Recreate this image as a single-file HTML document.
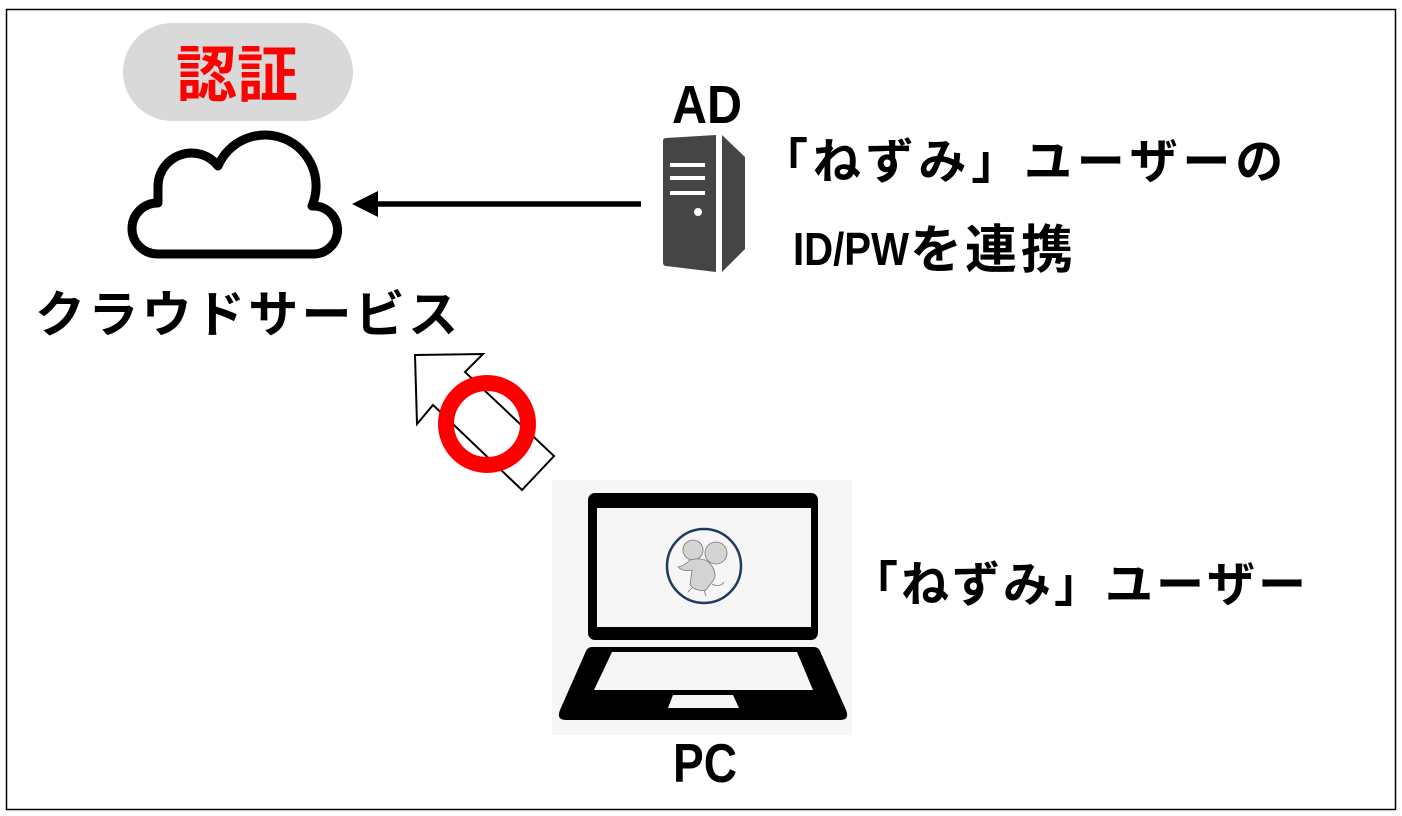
<!DOCTYPE html>
<html>
<head>
<meta charset="utf-8">
<style>
  html, body { margin: 0; padding: 0; background: #ffffff; }
  body { width: 1402px; height: 816px; overflow: hidden; }
  svg { display: block; }
  .t { font-family: "Liberation Sans", "Noto Sans CJK JP", sans-serif; font-weight: 700; fill: #000; }
  .j { font-family: "Noto Sans CJK JP", "Liberation Sans", sans-serif; font-weight: 700; fill: #000; }
</style>
</head>
<body>
<svg width="1402" height="816" viewBox="0 0 1402 816" xmlns="http://www.w3.org/2000/svg">
  <rect x="0" y="0" width="1402" height="816" fill="#ffffff"/>
  <!-- outer border -->
  <rect x="6.5" y="9.5" width="1389" height="800" fill="none" stroke="#000" stroke-width="1.5"/>

  <!-- 認証 pill -->
  <rect x="123" y="23" width="230" height="98" rx="49" ry="49" fill="#d9d9d9"/>
  <text class="j" x="176 237" y="96" font-size="61" style="fill:#ff0000">認証</text>

  <!-- cloud -->
  <path d="M157,254 L315,254 A24,24 0 1 0 312,206 A51,51 0 0 0 218,166 A33.5,33.5 0 0 0 158,186 L158,203 A25.5,25.5 0 0 0 157,254 Z"
        fill="#fff" stroke="#000" stroke-width="9" stroke-linejoin="round"/>

  <!-- クラウドサービス -->
  <text class="j" y="332" font-size="50" x="35 88.3 141.6 194.9 248.2 301.5 354.8 408.1">クラウドサービス</text>

  <!-- arrow AD -> cloud -->
  <line x1="641" y1="204" x2="372" y2="204" stroke="#000" stroke-width="5.5"/>
  <polygon points="352,204 378,191 378,217" fill="#000"/>

  <!-- AD label -->
  <text class="t" x="672" y="123" font-size="54" textLength="70" lengthAdjust="spacingAndGlyphs">AD</text>

  <!-- server icon -->
  <path d="M666,138 L716,135 L716,272 L666,266 Q663,266 663,262 L663,141 Q663,138 666,138 Z" fill="#454545"/>
  <path d="M722,135 L745,157 L745,249 L722,272 Z" fill="#454545"/>
  <rect x="670" y="163" width="35" height="4" fill="#fff"/>
  <rect x="670" y="176" width="35" height="4" fill="#fff"/>
  <rect x="670" y="191" width="35" height="4" fill="#fff"/>
  <circle cx="698" cy="212" r="4" fill="#fff"/>

  <!-- text lines right -->
  <text class="j" y="178" font-size="48" x="760 812.8 865.6 918.4 971.2 1024 1076.8 1129.6 1182.4 1235.2">「ねずみ」ユーザーの</text>
  <text class="t" x="793" y="265" font-size="46" textLength="116" lengthAdjust="spacingAndGlyphs">ID/PW</text>
  <text class="j" y="268" font-size="52" x="910 965 1021">を連携</text>

  <!-- hollow arrow PC -> cloud -->
  <polygon points="415,355 483,354 465,372 554,456 522,490 433,405 417,424" fill="#fff" stroke="#000" stroke-width="2" stroke-linejoin="miter"/>
  <!-- red ring -->
  <circle cx="487" cy="424" r="41" fill="none" stroke="#ff0000" stroke-width="16"/>

  <!-- laptop -->
  <rect x="552" y="480" width="300" height="255" fill="#f6f6f6"/>
  <rect x="588" y="493" width="230" height="147" rx="7" ry="7" fill="#000"/>
  <rect x="597" y="508" width="214" height="119" fill="#f6f6f6"/>
  <path d="M592,647 L814,647 Q818,647 820,651 L846,710 Q850,720 840,720 L566,720 Q556,720 560,710 L586,651 Q588,647 592,647 Z" fill="#000"/>
  <polygon points="612,652 797,652 813,690 594,690" fill="#f6f6f6"/>
  <polygon points="673,695 733,695 739,708 668,708" fill="#f6f6f6"/>

  <!-- mouse avatar -->
  <circle cx="704" cy="566" r="37" fill="#f6f6f6" stroke="#1f3b5c" stroke-width="2.5"/>
  <g fill="#d4d4d4" stroke="#777" stroke-width="0.8">
    <circle cx="716" cy="553" r="11"/>
    <circle cx="693" cy="550" r="10"/>
    <path d="M690,560 Q684,566 678,567 Q683,572 692,570 L690,585 Q696,592 706,590 L712,582 Q718,576 712,566 Q706,556 690,560 Z"/>
    <path d="M712,584 Q720,588 724,582" fill="none"/>
    <path d="M692,588 L688,592 M704,590 L706,596" fill="none"/>
  </g>

  <!-- 「ねずみ」ユーザー -->
  <text class="j" y="601" font-size="48" x="850 901 952 1003 1054 1105 1156 1207 1258">「ねずみ」ユーザー</text>

  <!-- PC label -->
  <text class="t" x="673" y="782" font-size="55" textLength="64" lengthAdjust="spacingAndGlyphs">PC</text>
</svg>
</body>
</html>
